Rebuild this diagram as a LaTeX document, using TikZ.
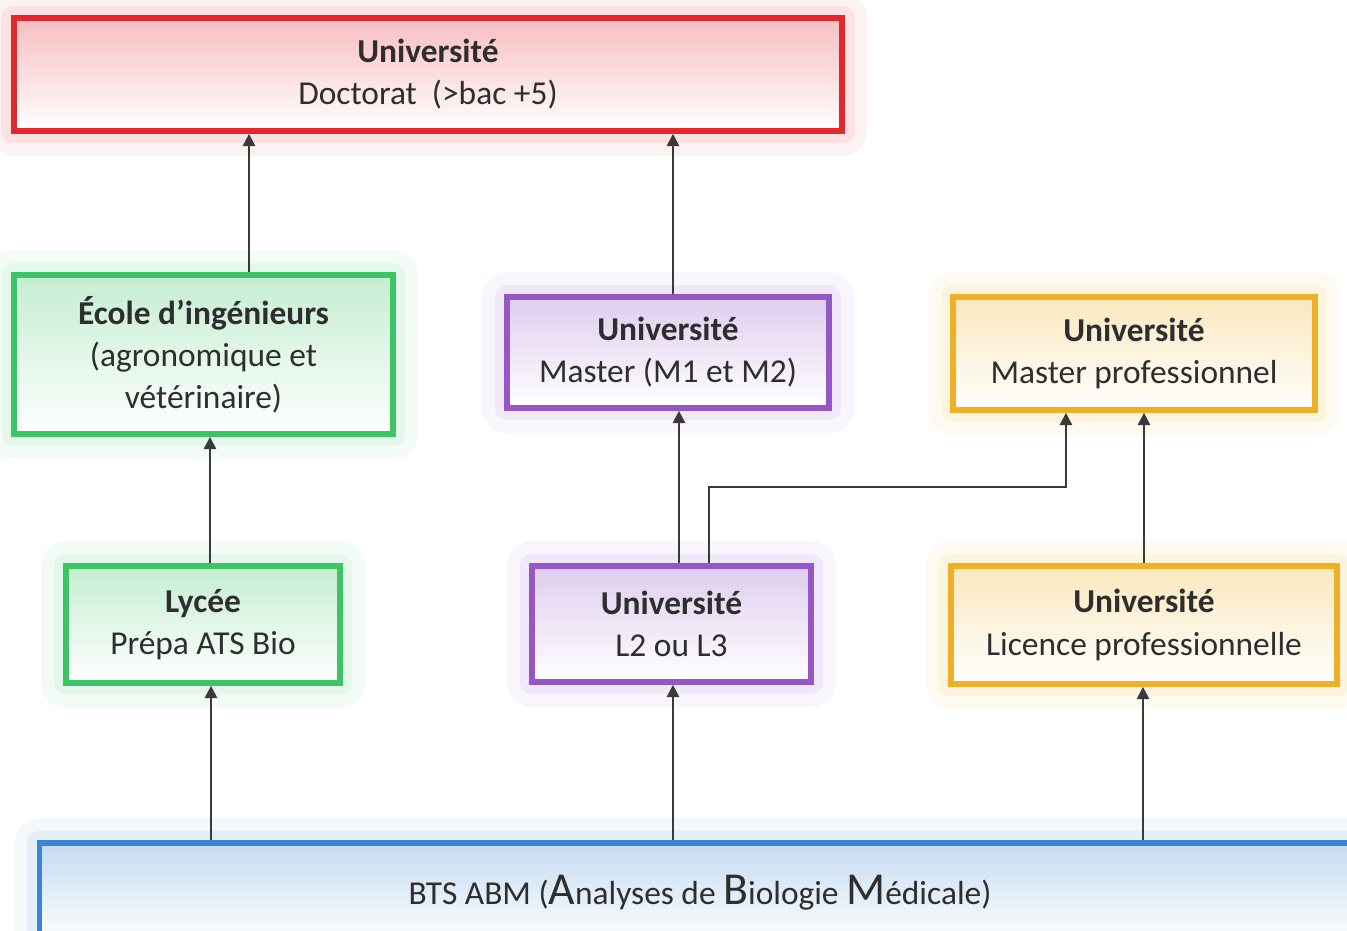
\documentclass[tikz,border=0pt]{standalone}
\usepackage{fontspec}
\setmainfont{Carlito}
\usetikzlibrary{arrows.meta}

\definecolor{rouge}{HTML}{E5262C}
\definecolor{vert}{HTML}{3CC466}
\definecolor{violet}{HTML}{9556C6}
\definecolor{jaune}{HTML}{EFB025}
\definecolor{bleu}{HTML}{3A84D4}
\definecolor{texte}{HTML}{2E2E2E}
\definecolor{trait}{HTML}{3A3A3A}

\newcommand{\Grand}[1]{{\fontsize{13}{12}\selectfont #1}}

\tikzset{
	boite/.style={line width=1.6pt, align=center, inner sep=0pt, text=texte,
		font=\fontsize{9.5}{12}\selectfont},
	couleur/.style={draw=#1, top color=#1!30, bottom color=white,
		preaction={draw=#1!6, line width=14pt, line join=round},
		preaction={draw=#1!14, line width=7pt, line join=round}},
	fleche/.style={draw=trait, line width=0.6pt, -{Triangle[length=3.5pt,width=3.5pt]}}
}

\begin{document}
\begin{tikzpicture}[x=0.01cm, y=-0.01cm]
	\useasboundingbox (0,0) rectangle (1347,931);
	\fill[white] (0,0) rectangle (1347,931);
	
	% Doctorat
	\node[boite, couleur=rouge, minimum width=8.28cm, minimum height=1.13cm] (doctorat) at (428,74.5)
		{\textbf{Université}\\Doctorat\ \ (>bac +5)};
	
	% niveau master
	\node[boite, couleur=vert, minimum width=3.79cm, minimum height=1.59cm] (ecole) at (203.5,354.5)
		{\textbf{École d’ingénieurs}\\(agronomique et\\vétérinaire)};
	\node[boite, couleur=violet, minimum width=3.22cm, minimum height=1.11cm] (master) at (668,352.5)
		{\textbf{Université}\\Master (M1 et M2)};
	\node[boite, couleur=jaune, minimum width=3.62cm, minimum height=1.13cm] (mpro) at (1134,353.5)
		{\textbf{Université}\\Master professionnel};
	
	% niveau licence
	\node[boite, couleur=vert, minimum width=2.74cm, minimum height=1.17cm] (lycee) at (203,624.5)
		{\textbf{Lycée}\\Prépa ATS Bio};
	\node[boite, couleur=violet, minimum width=2.79cm, minimum height=1.16cm] (l2) at (671.5,624)
		{\textbf{Université}\\L2 ou L3};
	\node[boite, couleur=jaune, minimum width=3.86cm, minimum height=1.18cm] (lpro) at (1144,625)
		{\textbf{Université}\\Licence professionnelle};
	
	% BTS
	\node[boite, couleur=bleu, minimum width=13.2cm, minimum height=1.0cm] (bts) at (700,893)
		{BTS ABM (\Grand{A}nalyses de \Grand{B}iologie \Grand{M}édicale)};
	
	% fleches
	\foreach \n/\d in {lycee/0.08,l2/0.015,lpro/-0.01}
		\draw[fleche] ([xshift=\d cm]\n.south |- bts.north) -- ([xshift=\d cm]\n.south);
	\draw[fleche] ([xshift=0.07cm]lycee.north) -- ([xshift=0.07cm]lycee.north |- ecole.south);
	\draw[fleche] ([xshift=0.075cm]l2.north) -- ([xshift=0.075cm]l2.north |- master.south);
	\draw[fleche] (lpro.north) -- (lpro.north |- mpro.south);
	\coordinate (coude) at (900,487);
	\draw[fleche] ([xshift=0.375cm]l2.north) |- (coude) -| ([xshift=-0.68cm]mpro.south);
	\draw[fleche] ([xshift=0.455cm]ecole.north) -- ([xshift=0.455cm]ecole.north |- doctorat.south);
	\draw[fleche] ([xshift=0.05cm]master.north) -- ([xshift=0.05cm]master.north |- doctorat.south);
\end{tikzpicture}
\end{document}
